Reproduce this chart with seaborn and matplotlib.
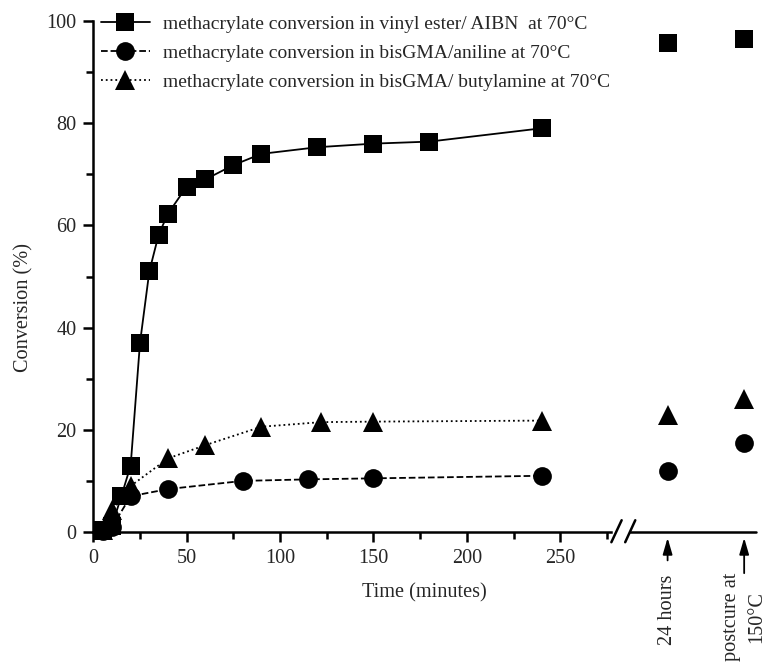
import numpy as np
import matplotlib
matplotlib.use("Agg")
import matplotlib.pyplot as plt
from matplotlib.ticker import FixedLocator
import seaborn as sns

# --- data ---
t_vinyl = [5, 10, 15, 20, 25, 30, 35, 40, 50, 60, 75, 90, 120, 150, 180, 240]
conv_vinyl = [0.3, 1.2, 7.0, 13.0, 37.0, 51.0, 58.2, 62.3, 67.6, 69.0, 71.8, 74.0, 75.3, 76.0, 76.4, 79.0]

t_aniline = [5, 10, 20, 40, 80, 115, 150, 240]
conv_aniline = [0.2, 1.0, 7.0, 8.4, 10.0, 10.3, 10.5, 11.0]

t_butyl = [5, 10, 20, 40, 60, 90, 122, 150, 240]
conv_butyl = [0.3, 4.3, 9.0, 14.4, 17.0, 20.6, 21.5, 21.6, 21.8]

# values after the axis break: 24 hours and postcure at 150 C
late_vinyl = [95.6, 96.5]
late_aniline = [11.9, 17.4]
late_butyl = [22.9, 26.0]

labels = ["methacrylate conversion in vinyl ester/ AIBN  at 70°C",
          "methacrylate conversion in bisGMA/aniline at 70°C",
          "methacrylate conversion in bisGMA/ butylamine at 70°C"]

# layout positions of the two late points on the broken axis
late_pos = [307.5, 348.5]

FS = 14.6

sns.set_style("ticks")
plt.rcParams['font.family'] = ['Liberation Serif', 'DejaVu Serif']
plt.rcParams['font.size'] = FS

fig = plt.figure(figsize=(7.71, 6.70), dpi=100)
ax = fig.add_axes([93.3 / 771, 138 / 670, 663 / 771, 511 / 670])

styles = [("-", "s", 12.5), ("--", "o", 13.5), (":", "^", 14)]
series = [(t_vinyl, conv_vinyl, late_vinyl),
          (t_aniline, conv_aniline, late_aniline),
          (t_butyl, conv_butyl, late_butyl)]

for (t, c, late), (ls, mk, ms), lab in zip(series, styles, labels):
    sns.lineplot(x=t, y=c, ax=ax, color="black", linestyle=ls, linewidth=1.3,
                 marker=mk, markersize=ms, markeredgewidth=0, label=lab,
                 clip_on=False, zorder=3)
    ax.plot(late_pos, late, linestyle="none", marker=mk, markersize=ms,
            color="black", markeredgewidth=0, clip_on=False, zorder=3)

ax.set_xlim(0, 355)
ax.set_ylim(0, 100)

ax.xaxis.set_major_locator(FixedLocator([0, 50, 100, 150, 200, 250]))
ax.xaxis.set_minor_locator(FixedLocator([25, 75, 125, 175, 225, 275]))
ax.yaxis.set_major_locator(FixedLocator([0, 20, 40, 60, 80, 100]))
ax.yaxis.set_minor_locator(FixedLocator([10, 30, 50, 70, 90]))

ax.tick_params(axis="both", which="major", width=1.8, length=7, labelsize=FS, color="black")
ax.tick_params(axis="both", which="minor", width=1.8, length=5, color="black")
ax.tick_params(axis="x", which="major", pad=5)
ax.tick_params(axis="y", which="major", pad=5)

sns.despine(ax=ax)
for s in ["left", "bottom"]:
    ax.spines[s].set_linewidth(1.8)
    ax.spines[s].set_color("black")
ax.spines["bottom"].set_bounds(0, 277)

# rest of the x axis after the break, and the break marks
ax.plot([287.6, 355], [0, 0], color="black", linewidth=1.8, clip_on=False)
ax.plot([277.4, 282.9], [-2.0, 2.3], color="black", linewidth=1.8, clip_on=False)
ax.plot([284.8, 290.2], [-2.0, 2.3], color="black", linewidth=1.8, clip_on=False)

ax.set_xlabel("Time (minutes)", fontsize=FS)
ax.set_ylabel("Conversion (%)", fontsize=FS)
ax.xaxis.set_label_coords(0.5, -0.10)
ax.yaxis.set_label_coords(-0.090, 0.44)

# annotations below the broken part of the axis
arrow = dict(arrowstyle="-|>,head_width=0.16,head_length=0.55", color="black",
             lw=1.3, mutation_scale=18)
ax.annotate("", xy=(late_pos[0], -0.6), xytext=(late_pos[0], -6.1),
            arrowprops=arrow, annotation_clip=False)
ax.annotate("", xy=(late_pos[1], -0.6), xytext=(late_pos[1], -8.6),
            arrowprops=arrow, annotation_clip=False)
ax.text(late_pos[0], -8.4, "24 hours", rotation=90, ha="center", va="top", fontsize=FS)
ax.text(late_pos[1], -8.0, "postcure at\n150°C", rotation=90, ha="center", va="top",
        multialignment="center", linespacing=1.45, fontsize=FS)

leg = ax.legend(loc="upper left", bbox_to_anchor=(0.0, 1.027), frameon=False,
                handlelength=2.5, handletextpad=0.7, labelspacing=0.6,
                borderaxespad=0.0, fontsize=14)

fig.savefig("out.png", dpi=100)
